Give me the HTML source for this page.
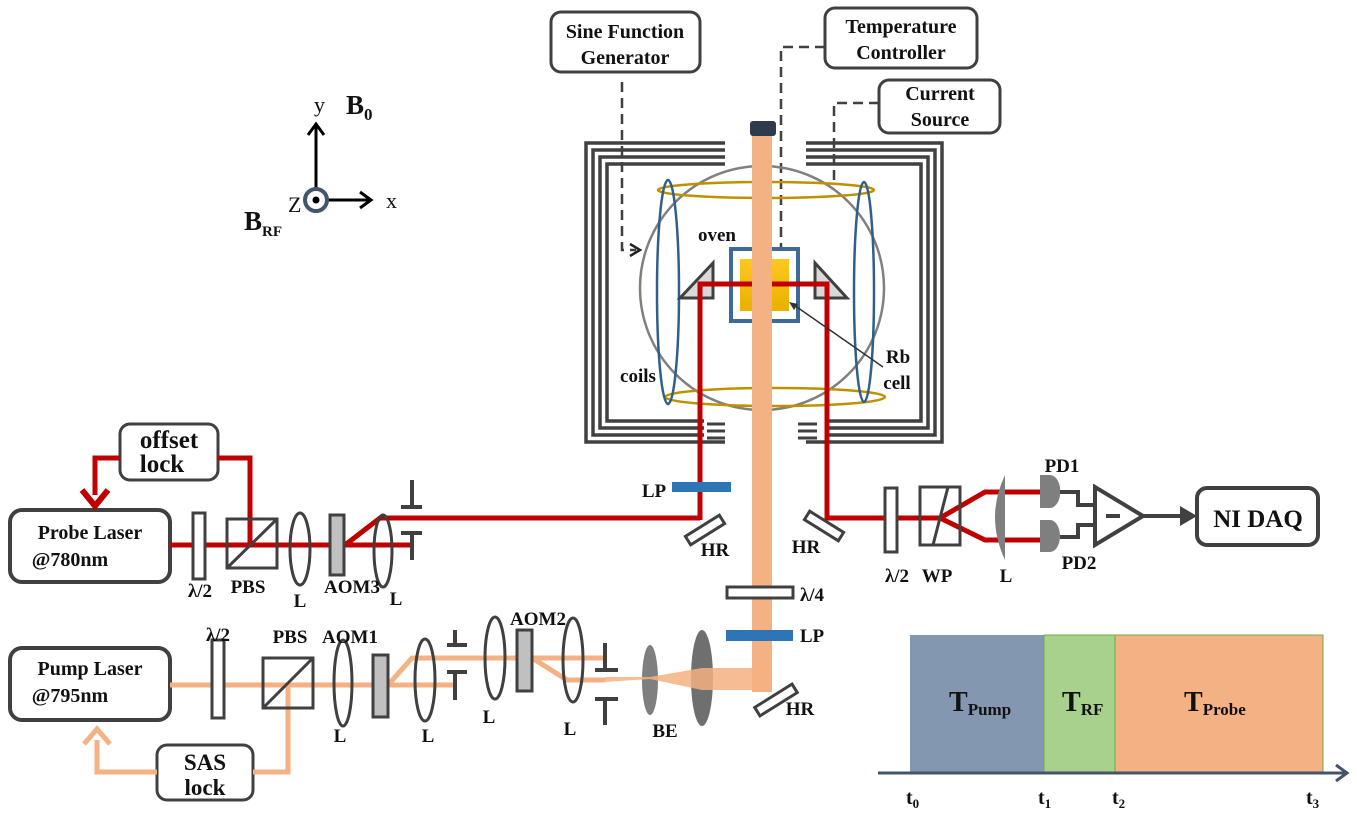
<!DOCTYPE html>
<html><head><meta charset="utf-8"><style>
html,body{margin:0;padding:0;background:#fff;}
svg{display:block;font-family:"Liberation Serif",serif;font-weight:bold;}
</style></head><body>
<svg width="1357" height="832" viewBox="0 0 1357 832" xmlns="http://www.w3.org/2000/svg">
<defs>
<linearGradient id="gy" x1="0" y1="0" x2="0" y2="1"><stop offset="0" stop-color="#ffc820"/><stop offset="1" stop-color="#e8b000"/></linearGradient>
</defs>
<g fill="none" stroke="#404040" stroke-width="3">
<rect x="551" y="12" width="149" height="60" rx="10"/>
<rect x="825" y="8" width="152" height="60" rx="10"/>
<rect x="879" y="80" width="121" height="53" rx="10"/>
<rect x="10" y="510" width="160" height="72" rx="12" stroke-width="4"/>
<rect x="10" y="648" width="160" height="72" rx="12" stroke-width="4"/>
<rect x="120" y="424" width="98" height="56" rx="10"/>
<rect x="157" y="745" width="96" height="55" rx="10"/>
<rect x="1197" y="488" width="121" height="57" rx="10" stroke-width="4"/>
</g>
<g font-size="20" fill="#111" text-anchor="middle">
<text x="625" y="38">Sine Function</text><text x="625" y="64">Generator</text>
<text x="901" y="33">Temperature</text><text x="901" y="59">Controller</text>
<text x="940" y="100">Current</text><text x="940" y="126">Source</text>
<text x="90" y="539">Probe Laser</text><text x="70" y="566" >@780nm</text>
<text x="90" y="675">Pump Laser</text><text x="70" y="702">@795nm</text>
<text x="169" y="448" font-size="25">offset</text><text x="162" y="472" font-size="25">lock</text>
<text x="205" y="770" font-size="23">SAS</text><text x="205" y="795" font-size="23">lock</text>
<text x="1258" y="527" font-size="25">NI DAQ</text>
</g>
<g fill="none" stroke="#404040" stroke-width="2.5" stroke-dasharray="10,6">
<path d="M622 82 V250 H636"/>
<path d="M825 47 H781 V248"/>
<path d="M879 103 H834 V185"/>
</g>
<path d="M630 244 L640 250 L630 256" fill="none" stroke="#222" stroke-width="2.5"/>
<g fill="none" stroke="#404040" stroke-width="3.5">
<path d="M725 143 H586 V442 H725 M806 143 H942 V442 H806"/>
<path d="M725 150 H593 V435 H704 M806 150 H935 V435 H826"/>
<path d="M725 157 H600 V428 H704 M806 157 H928 V428 H826"/>
<path d="M725 164 H607 V421 H704 M806 164 H921 V421 H826"/>
<path d="M707 424 H725 M707 431 H725 M707 438 H725 M798 424 H817 M798 431 H817 M798 438 H817" stroke-width="3"/>
</g>
<circle cx="762" cy="288" r="122" fill="none" stroke="#808080" stroke-width="2.5"/>
<ellipse cx="766" cy="190" rx="108" ry="8" fill="none" stroke="#bf9000" stroke-width="2.5"/>
<ellipse cx="775" cy="397" rx="110" ry="9" fill="none" stroke="#bf9000" stroke-width="2.5"/>
<ellipse cx="668" cy="292" rx="11" ry="112" fill="none" stroke="#2f5f8a" stroke-width="2.5"/>
<ellipse cx="864" cy="292" rx="10" ry="110" fill="none" stroke="#2f5f8a" stroke-width="2.5"/>
<rect x="731" y="249" width="67" height="72" fill="#fff" stroke="#3e6a99" stroke-width="4"/>
<rect x="740" y="259" width="49" height="52" fill="url(#gy)"/>
<polygon points="680,298 713,263 713,298" fill="#d9d9d9" stroke="#404040" stroke-width="3"/>
<polygon points="815,263 815,298 847,298" fill="#d9d9d9" stroke="#404040" stroke-width="3"/>
<g fill="none" stroke="#c00000" stroke-width="5">
<path d="M700 520 V284 H827 V518 H940"/>
<path d="M170 545 H345 M345 545 L380 518 H700 M345 545 H412"/>
<path d="M218 458 H250 V545 M120 458 H95 V495"/>
<path d="M940 518 L985 492 H1040 M940 518 L985 540 H1040"/>
</g>
<path d="M82 490 L95 506 L108 490" fill="none" stroke="#c00000" stroke-width="6"/>
<rect x="752" y="132" width="20" height="560" fill="#f4b183"/>
<rect x="750" y="121" width="26" height="15" rx="3" fill="#2e3a4d"/>
<path d="M883 367 L794 305" stroke="#333" stroke-width="1.5"/>
<path d="M789 302 L798 304 L794 310 Z" fill="#333"/>
<g fill="none" stroke="#f4b183" stroke-width="5">
<path d="M170 685 H455 M388 685 L412 658 H607 M532 658 L567 680 H605"/>
<path d="M288 685 V772 H253 M157 772 H97 V740"/>
</g>
<path d="M84 744 L97 729 L110 744" fill="none" stroke="#f4b183" stroke-width="5"/>
<g stroke="#404040" stroke-width="3" fill="none">
<rect x="193" y="513" width="12" height="66" fill="#fff"/>
<rect x="227" y="519" width="50" height="49"/><line x1="227" y1="568" x2="277" y2="519"/>
<ellipse cx="300" cy="549" rx="10" ry="36"/>
<rect x="330" y="515" width="14" height="60" fill="#c0c0c0"/>
<ellipse cx="383" cy="551" rx="9" ry="36"/>
<path d="M412 480 V507 M401 507 H422 M401 533 H422 M412 533 V560" stroke-width="4"/>
<rect x="212" y="640" width="12" height="78" fill="#fff"/>
<rect x="263" y="658" width="50" height="50"/><line x1="263" y1="708" x2="313" y2="658"/>
<ellipse cx="343" cy="683" rx="9" ry="43"/>
<rect x="373" y="655" width="15" height="62" fill="#c0c0c0"/>
<ellipse cx="425" cy="680" rx="10" ry="41"/>
<path d="M455 630 V645 M447 645 H467 M447 672 H467 M455 672 V700" stroke-width="4"/>
<ellipse cx="495" cy="658" rx="10" ry="41"/>
<rect x="517" y="630" width="15" height="61" fill="#c0c0c0"/>
<ellipse cx="573" cy="660" rx="10" ry="42"/>
<path d="M605 643 V670 M595 670 H618 M595 699 H618 M605 699 V725" stroke-width="4"/>
<rect x="727" y="587" width="66" height="11" fill="#fff"/>
<rect x="885" y="488" width="12" height="64" fill="#fff"/>
<rect x="920" y="487" width="40" height="58" fill="none"/><line x1="933" y1="545" x2="948" y2="487"/>
<rect x="-20" y="-5" width="40" height="10" transform="translate(705 530) rotate(-32)" fill="#fff"/>
<rect x="-20" y="-5" width="40" height="10" transform="translate(824 526) rotate(32)" fill="#fff"/>
<rect x="-22" y="-5" width="44" height="10" transform="translate(776 700) rotate(-32)" fill="#fff"/>
</g>
<ellipse cx="650" cy="680" rx="8" ry="35" fill="#7f7f7f"/>
<ellipse cx="702" cy="678" rx="11" ry="48" fill="#6f6f6f"/>
<polygon points="605,677 650,677 702,668 772,668 772,690 702,690 650,679 605,682" fill="#f4b183" opacity="0.85"/>
<rect x="672" y="482" width="59" height="10" fill="#2e75b6"/>
<rect x="726" y="630" width="67" height="11" fill="#2e75b6"/>
<path d="M1005 475 Q985 517 1005 560 Z" fill="#7f7f7f"/>
<path d="M1040 475 H1050 A10 16 0 0 1 1050 508 H1040 Z M1040 520 H1050 A10 16 0 0 1 1050 552 H1040 Z" fill="#7f7f7f"/>
<g fill="none" stroke="#404040" stroke-width="4">
<path d="M1060 492 H1078 V505 H1097 M1060 537 H1078 V525 H1097"/>
<polygon points="1095,487 1095,545 1143,516"/>
<path d="M1106 516 H1120 M1143 516 H1185"/>
</g>
<path d="M1180 506 L1197 516 L1180 526 Z" fill="#404040"/>
<g stroke="#000" stroke-width="3" fill="none">
<path d="M316 190 V125 M308 135 L316 124 L324 135"/>
<path d="M326 200 H370 M360 192 L371 200 L360 208"/>
</g>
<circle cx="316" cy="200" r="11" fill="#fff" stroke="#44546a" stroke-width="4"/>
<circle cx="316" cy="200" r="3.5" fill="#000"/>
<g fill="#111" font-weight="normal" font-size="22"><text x="314" y="112">y</text><text x="386" y="208">x</text><text x="288" y="212">Z</text></g>
<text x="346" y="114" font-size="27" fill="#111">B<tspan font-size="17" dy="6">0</tspan></text>
<text x="244" y="230" font-size="27" fill="#111">B<tspan font-size="15" dy="6">RF</tspan></text>
<g font-size="19" fill="#111" text-anchor="middle">
<text x="717" y="241">oven</text><text x="638" y="382">coils</text>
<text x="898" y="363">Rb</text><text x="897" y="389">cell</text>
<text x="200" y="597">λ/2</text><text x="248" y="593">PBS</text><text x="300" y="607">L</text><text x="352" y="593">AOM3</text><text x="396" y="605">L</text>
<text x="218" y="641">λ/2</text><text x="290" y="643">PBS</text><text x="350" y="643">AOM1</text><text x="340" y="742">L</text><text x="428" y="742">L</text><text x="489" y="723">L</text><text x="570" y="735">L</text><text x="538" y="625">AOM2</text><text x="665" y="737">BE</text>
<text x="654" y="497">LP</text><text x="715" y="556">HR</text><text x="806" y="553">HR</text><text x="812" y="601">λ/4</text><text x="812" y="642">LP</text><text x="800" y="715">HR</text>
<text x="897" y="582">λ/2</text><text x="937" y="582">WP</text><text x="1006" y="582">L</text><text x="1062" y="472">PD1</text><text x="1079" y="569">PD2</text>
</g>
<rect x="910" y="635" width="134" height="137" fill="#8497b0"/>
<rect x="1044" y="635" width="71" height="137" fill="#a9d18e" stroke="#70ad47" stroke-width="1"/>
<rect x="1115" y="635" width="208" height="137" fill="#f4b183" stroke="#70ad47" stroke-width="1"/>
<path d="M878 773 H1345 M1336 765 L1347 773 L1336 781" fill="none" stroke="#44546a" stroke-width="3"/>
<g fill="#111" font-size="28">
<text x="949" y="711">T<tspan font-size="17" dy="4">Pump</tspan></text>
<text x="1062" y="711">T<tspan font-size="17" dy="4">RF</tspan></text>
<text x="1184" y="711">T<tspan font-size="17" dy="4">Probe</tspan></text>
</g>
<g fill="#111" font-size="20">
<text x="906" y="804">t<tspan font-size="13" dy="4">0</tspan></text>
<text x="1038" y="804">t<tspan font-size="13" dy="4">1</tspan></text>
<text x="1112" y="804">t<tspan font-size="13" dy="4">2</tspan></text>
<text x="1306" y="804">t<tspan font-size="13" dy="4">3</tspan></text>
</g>
</svg>
</body></html>
